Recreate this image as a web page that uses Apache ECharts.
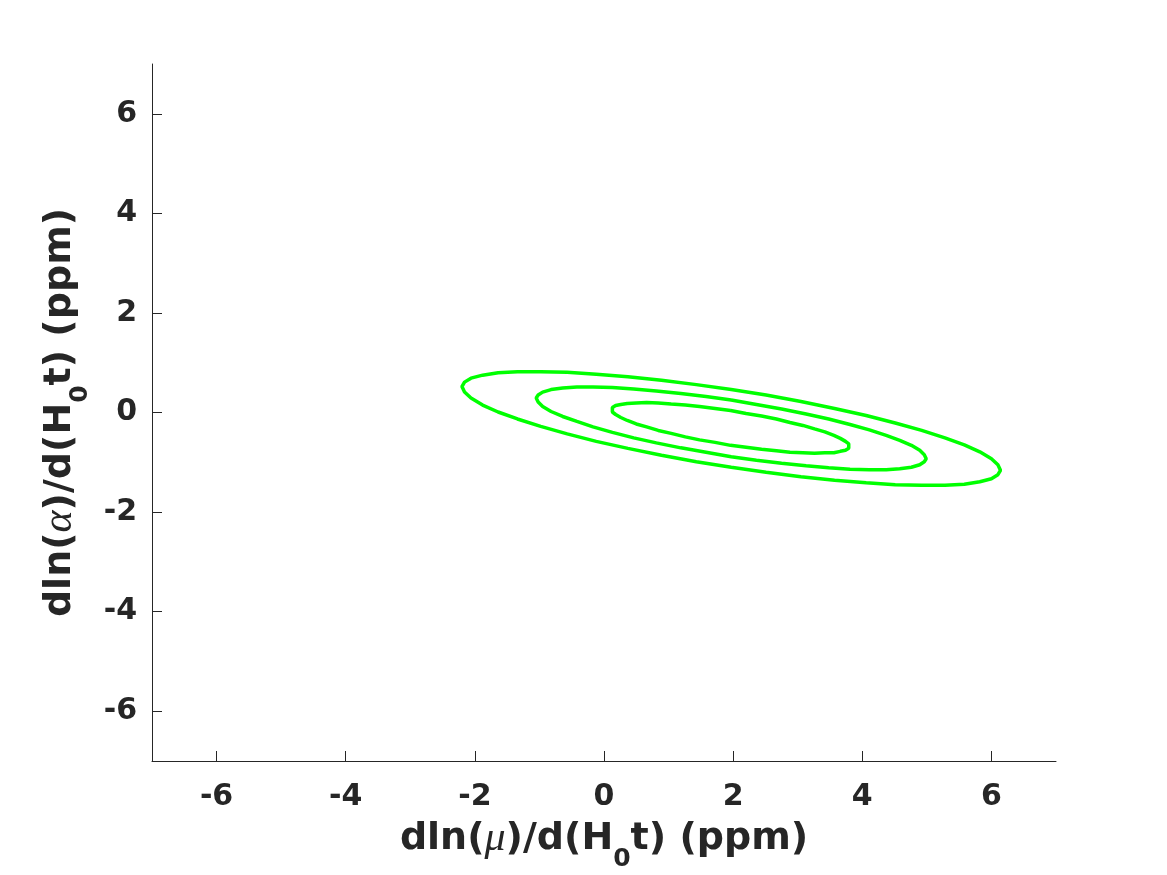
<!DOCTYPE html>
<html>
<head>
<meta charset="utf-8">
<script src="https://cdn.jsdelivr.net/npm/echarts@6/dist/echarts.min.js"></script>
<style>
  html, body { margin: 0; padding: 0; background: #fff; }
</style>
</head>
<body>
<div id="chart" style="width: 1167px; height: 875px;"></div>
<script>
// tick positions on both axes
const xTicks = [-6, -4, -2, 0, 2, 4, 6]
const yTicks = [-6, -4, -2, 0, 2, 4, 6]

// contour lines (outer / middle / inner), closed loops
const outerX = [1.97, 1.43, 0.89, 0.37, -0.12, -0.57, -0.98, -1.34, -1.64, -1.88, -2.06, -2.16, -2.20, -2.16, -2.06, -1.88, -1.64, -1.34, -0.98, -0.57, -0.12, 0.37, 0.89, 1.43, 1.97, 2.51, 3.05, 3.57, 4.06, 4.51, 4.92, 5.28, 5.58, 5.82, 6.00, 6.10, 6.14, 6.10, 6.00, 5.82, 5.58, 5.28, 4.92, 4.51, 4.06, 3.57, 3.05, 2.51, 1.97]
const outerY = [0.46, 0.56, 0.65, 0.72, 0.77, 0.81, 0.82, 0.82, 0.80, 0.75, 0.69, 0.61, 0.52, 0.41, 0.29, 0.15, 0.01, -0.13, -0.28, -0.43, -0.58, -0.72, -0.86, -0.99, -1.10, -1.20, -1.29, -1.36, -1.41, -1.45, -1.46, -1.46, -1.44, -1.39, -1.33, -1.25, -1.16, -1.05, -0.93, -0.79, -0.65, -0.51, -0.36, -0.21, -0.06, 0.08, 0.22, 0.35, 0.46]

const middleX = [1.97, 1.58, 1.19, 0.81, 0.46, 0.13, -0.17, -0.42, -0.64, -0.82, -0.95, -1.02, -1.05, -1.02, -0.95, -0.82, -0.64, -0.42, -0.17, 0.13, 0.46, 0.81, 1.19, 1.58, 1.97, 2.36, 2.75, 3.13, 3.48, 3.81, 4.11, 4.37, 4.58, 4.76, 4.89, 4.96, 4.99, 4.96, 4.89, 4.76, 4.58, 4.37, 4.11, 3.81, 3.48, 3.13, 2.75, 2.36, 1.97]
const middleY = [0.25, 0.32, 0.38, 0.43, 0.47, 0.50, 0.51, 0.51, 0.49, 0.46, 0.41, 0.35, 0.29, 0.21, 0.12, 0.02, -0.08, -0.18, -0.29, -0.40, -0.51, -0.61, -0.71, -0.80, -0.89, -0.96, -1.02, -1.07, -1.11, -1.14, -1.15, -1.15, -1.13, -1.10, -1.05, -0.99, -0.93, -0.85, -0.76, -0.66, -0.56, -0.46, -0.35, -0.24, -0.13, -0.03, 0.07, 0.16, 0.25]

const innerX = [1.96, 1.72, 1.48, 1.26, 1.04, 0.84, 0.66, 0.50, 0.36, 0.26, 0.18, 0.13, 0.12, 0.13, 0.18, 0.26, 0.36, 0.50, 0.66, 0.84, 1.04, 1.26, 1.48, 1.72, 1.96, 2.20, 2.44, 2.67, 2.88, 3.08, 3.26, 3.42, 3.56, 3.66, 3.74, 3.79, 3.80, 3.79, 3.74, 3.66, 3.56, 3.42, 3.26, 3.08, 2.88, 2.67, 2.44, 2.20, 1.96]
const innerY = [0.04, 0.08, 0.12, 0.15, 0.17, 0.19, 0.20, 0.19, 0.18, 0.16, 0.14, 0.10, 0.06, 0.01, -0.04, -0.10, -0.16, -0.23, -0.29, -0.36, -0.42, -0.49, -0.55, -0.60, -0.66, -0.70, -0.74, -0.77, -0.80, -0.81, -0.82, -0.81, -0.81, -0.78, -0.76, -0.72, -0.68, -0.63, -0.58, -0.52, -0.46, -0.39, -0.33, -0.26, -0.20, -0.13, -0.07, -0.02, 0.04]

const zip = (xs, ys) => xs.map((x, i) => [x, ys[i]])

const textColor = '#262626'

// axis titles: bold sans, greek in italic serif, subscript 0 pushed down
const nameStyle = {
  fontFamily: 'DejaVu Sans',
  fontWeight: 'bold',
  fontSize: 38,
  color: textColor,
  lineHeight: 44,
  rich: {
    g: { fontFamily: 'Liberation Serif', fontStyle: 'italic', fontWeight: 'normal', fontSize: 42, lineHeight: 44 },
    s: { fontFamily: 'DejaVu Sans', fontWeight: 'bold', fontSize: 25, lineHeight: 25, padding: [30, 0, 0, 0], verticalAlign: 'top' }
  }
}

const axisCommon = {
  type: 'value',
  min: -7,
  max: 7,
  nameLocation: 'middle',
  nameTextStyle: nameStyle,
  axisLine: { show: true, onZero: false, lineStyle: { color: textColor, width: 1 } },
  axisTick: { show: true, inside: true, length: 10, lineStyle: { color: textColor, width: 1 } },
  splitLine: { show: false },
  axisLabel: {
    fontFamily: 'DejaVu Sans',
    fontWeight: 'bold',
    fontSize: 30,
    color: textColor
  }
}

const chart = echarts.init(document.getElementById('chart'))

chart.setOption({
  animation: false,
  backgroundColor: '#ffffff',
  grid: { left: 152, right: 111, top: 64, bottom: 114, containLabel: false, outerBoundsMode: 'none' },
  xAxis: {
    ...axisCommon,
    name: 'dln({g|μ})/d(H{s|0}t) (ppm)',
    nameGap: 54,
    axisTick: { ...axisCommon.axisTick, customValues: xTicks },
    axisLabel: { ...axisCommon.axisLabel, margin: 21, customValues: xTicks }
  },
  yAxis: {
    ...axisCommon,
    name: 'dln({g|α})/d(H{s|0}t) (ppm)',
    nameGap: 42,
    axisTick: { ...axisCommon.axisTick, customValues: yTicks },
    axisLabel: { ...axisCommon.axisLabel, margin: 15, customValues: yTicks }
  },
  series: [
    { name: 'outer', data: zip(outerX, outerY) },
    { name: 'middle', data: zip(middleX, middleY) },
    { name: 'inner', data: zip(innerX, innerY) }
  ].map(s => ({
    ...s,
    type: 'line',
    showSymbol: false,
    lineStyle: { color: '#00ff00', width: 3.5 }
  }))
})
</script>
</body>
</html>
